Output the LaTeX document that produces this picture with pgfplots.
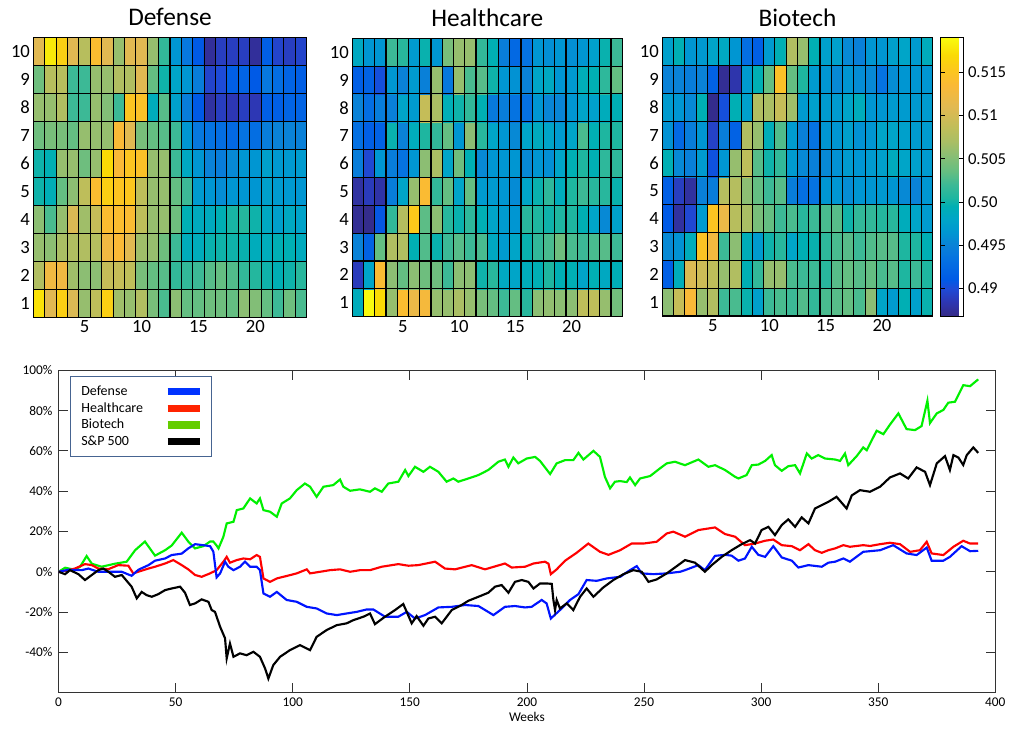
\documentclass[border=0pt]{standalone}
\usepackage{fontspec}
\setmainfont{Carlito}
\usepackage{pgfplots}
\pgfplotsset{compat=1.18}
\definecolor{legborder}{RGB}{70,100,145}
\definecolor{cdef}{RGB}{0,20,255}
\definecolor{chc}{RGB}{255,0,0}
\definecolor{cbio}{RGB}{0,240,0}
\definecolor{sdef}{RGB}{0,50,255}
\definecolor{shc}{RGB}{255,35,0}
\definecolor{sbio}{RGB}{100,205,0}
\pgfplotsset{
  /pgf/number format/assume math mode=true,
  colormap={myparula}{
    rgb255(0pt)=(53,42,135)
    rgb255(17pt)=(45,55,180)
    rgb255(32pt)=(30,75,215)
    rgb255(42pt)=(0,90,230)
    rgb255(67pt)=(5,115,225)
    rgb255(82pt)=(10,130,215)
    rgb255(97pt)=(0,150,210)
    rgb255(112pt)=(0,165,200)
    rgb255(127pt)=(0,175,180)
    rgb255(137pt)=(30,182,160)
    rgb255(152pt)=(60,185,150)
    rgb255(167pt)=(100,190,130)
    rgb255(187pt)=(140,190,115)
    rgb255(202pt)=(170,190,100)
    rgb255(217pt)=(190,190,90)
    rgb255(242pt)=(225,185,82)
    rgb255(267pt)=(250,185,55)
    rgb255(284pt)=(252,198,30)
    rgb255(302pt)=(250,218,5)
    rgb255(322pt)=(249,251,14)
  },
  heat/.style={
    scale only axis, enlargelimits=false,
    anchor=north west,
    xmin=0.5, xmax=24.5, ymin=0.5, ymax=10.5,
    xtick={5,10,15,20}, ytick={1,2,...,10},
    minor xtick={0.5,1.5,...,24.5}, minor ytick={0.5,1.5,...,10.5},
    major tick length=0pt, minor tick length=0pt,
    xminorgrids, yminorgrids,
    minor grid style={black, line width=0.8pt},
    axis on top,
    axis line style={black, line width=0.9pt},
    tick label style={font=\fontsize{14}{16}\selectfont},
    yticklabel style={xshift=1pt},
    xticklabel style={yshift=1pt},
    title style={font=\fontsize{19}{22}\selectfont, yshift=-1pt},
    colormap name=myparula,
    point meta min=0.4868, point meta max=0.519,
  },
}
\begin{document}
\begin{tikzpicture}
\path[use as bounding box] (0,0) rectangle (758.25pt,-548.25pt);

% ---------------- Defense ----------------
\begin{axis}[heat, at={(25pt,-28pt)}, width=205pt, height=210pt, title={Defense}]
\addplot[matrix plot*, mesh/cols=24, mesh/rows=10, point meta=explicit] coordinates {
(1,1)[0.5175] (2,1)[0.511] (3,1)[0.516] (4,1)[0.5105] (5,1)[0.506] (6,1)[0.5085] (7,1)[0.516] (8,1)[0.5065] (9,1)[0.506] (10,1)[0.5075] (11,1)[0.5045] (12,1)[0.5025] (13,1)[0.5055] (14,1)[0.5035] (15,1)[0.5035] (16,1)[0.504] (17,1)[0.504] (18,1)[0.5035] (19,1)[0.5055] (20,1)[0.505] (21,1)[0.5035] (22,1)[0.502] (23,1)[0.504] (24,1)[0.5025]

(1,2)[0.5075] (2,2)[0.5125] (3,2)[0.5125] (4,2)[0.5065] (5,2)[0.5055] (6,2)[0.5055] (7,2)[0.509] (8,2)[0.509] (9,2)[0.5085] (10,2)[0.5045] (11,2)[0.5035] (12,2)[0.503] (13,2)[0.5015] (14,2)[0.5015] (15,2)[0.502] (16,2)[0.503] (17,2)[0.5035] (18,2)[0.5028] (19,2)[0.5015] (20,2)[0.5008] (21,2)[0.5] (22,2)[0.4995] (23,2)[0.5] (24,2)[0.501]

(1,3)[0.506] (2,3)[0.5055] (3,3)[0.507] (4,3)[0.5075] (5,3)[0.5075] (6,3)[0.5078] (7,3)[0.5125] (8,3)[0.5135] (9,3)[0.511] (10,3)[0.5065] (11,3)[0.506] (12,3)[0.504] (13,3)[0.502] (14,3)[0.499] (15,3)[0.499] (16,3)[0.4998] (17,3)[0.5] (18,3)[0.5] (19,3)[0.4998] (20,3)[0.499] (21,3)[0.499] (22,3)[0.4995] (23,3)[0.4995] (24,3)[0.4988]

(1,4)[0.5055] (2,4)[0.5025] (3,4)[0.506] (4,4)[0.5105] (5,4)[0.5065] (6,4)[0.509] (7,4)[0.514] (8,4)[0.514] (9,4)[0.5138] (10,4)[0.5085] (11,4)[0.506] (12,4)[0.506] (13,4)[0.504] (14,4)[0.4995] (15,4)[0.4988] (16,4)[0.4988] (17,4)[0.4995] (18,4)[0.5003] (19,4)[0.5008] (20,4)[0.5] (21,4)[0.4985] (22,4)[0.4975] (23,4)[0.4985] (24,4)[0.4978]

(1,5)[0.5] (2,5)[0.4993] (3,5)[0.5035] (4,5)[0.5055] (5,5)[0.5085] (6,5)[0.514] (7,5)[0.516] (8,5)[0.515] (9,5)[0.5152] (10,5)[0.5085] (11,5)[0.506] (12,5)[0.506] (13,5)[0.5035] (14,5)[0.502] (15,5)[0.497] (16,5)[0.4965] (17,5)[0.4958] (18,5)[0.4965] (19,5)[0.4965] (20,5)[0.4965] (21,5)[0.4975] (22,5)[0.497] (23,5)[0.4968] (24,5)[0.4965]

(1,6)[0.5] (2,6)[0.4995] (3,6)[0.506] (4,6)[0.506] (5,6)[0.504] (6,6)[0.506] (7,6)[0.517] (8,6)[0.5135] (9,6)[0.515] (10,6)[0.5145] (11,6)[0.506] (12,6)[0.506] (13,6)[0.502] (14,6)[0.4985] (15,6)[0.4965] (16,6)[0.495] (17,6)[0.4945] (18,6)[0.4955] (19,6)[0.4965] (20,6)[0.4965] (21,6)[0.4975] (22,6)[0.4968] (23,6)[0.4968] (24,6)[0.497]

(1,7)[0.504] (2,7)[0.5045] (3,7)[0.5045] (4,7)[0.5035] (5,7)[0.506] (6,7)[0.506] (7,7)[0.506] (8,7)[0.5135] (9,7)[0.511] (10,7)[0.5045] (11,7)[0.5035] (12,7)[0.503] (13,7)[0.502] (14,7)[0.4965] (15,7)[0.494] (16,7)[0.4935] (17,7)[0.493] (18,7)[0.4925] (19,7)[0.4935] (20,7)[0.493] (21,7)[0.4945] (22,7)[0.495] (23,7)[0.495] (24,7)[0.4948]

(1,8)[0.506] (2,8)[0.506] (3,8)[0.5075] (4,8)[0.502] (5,8)[0.502] (6,8)[0.506] (7,8)[0.505] (8,8)[0.502] (9,8)[0.515] (10,8)[0.5145] (11,8)[0.499] (12,8)[0.503] (13,8)[0.4975] (14,8)[0.4945] (15,8)[0.491] (16,8)[0.4878] (17,8)[0.489] (18,8)[0.4885] (19,8)[0.489] (20,8)[0.4885] (21,8)[0.4915] (22,8)[0.4915] (23,8)[0.492] (24,8)[0.492]

(1,9)[0.504] (2,9)[0.508] (3,9)[0.508] (4,9)[0.502] (5,9)[0.502] (6,9)[0.506] (7,9)[0.506] (8,9)[0.5075] (9,9)[0.5075] (10,9)[0.511] (11,9)[0.5035] (12,9)[0.5] (13,9)[0.498] (14,9)[0.4965] (15,9)[0.4945] (16,9)[0.4895] (17,9)[0.49] (18,9)[0.4915] (19,9)[0.492] (20,9)[0.491] (21,9)[0.494] (22,9)[0.493] (23,9)[0.492] (24,9)[0.4915]

(1,10)[0.511] (2,10)[0.518] (3,10)[0.516] (4,10)[0.511] (5,10)[0.508] (6,10)[0.514] (7,10)[0.511] (8,10)[0.506] (9,10)[0.511] (10,10)[0.511] (11,10)[0.506] (12,10)[0.5015] (13,10)[0.4965] (14,10)[0.494] (15,10)[0.491] (16,10)[0.4875] (17,10)[0.489] (18,10)[0.489] (19,10)[0.489] (20,10)[0.4875] (21,10)[0.4915] (22,10)[0.4895] (23,10)[0.489] (24,10)[0.4895]
};
\end{axis}

% ---------------- Healthcare ----------------
\begin{axis}[heat, at={(264.2pt,-28.7pt)}, width=202.5pt, height=208.8pt, title={Healthcare}]
\addplot[matrix plot*, mesh/cols=24, mesh/rows=10, point meta=explicit] coordinates {
(1,1)[0.499] (2,1)[0.519] (3,1)[0.517] (4,1)[0.506] (5,1)[0.514] (6,1)[0.512] (7,1)[0.513] (8,1)[0.506] (9,1)[0.506] (10,1)[0.507] (11,1)[0.506] (12,1)[0.5045] (13,1)[0.5035] (14,1)[0.502] (15,1)[0.5035] (16,1)[0.501] (17,1)[0.5055] (18,1)[0.5058] (19,1)[0.5055] (20,1)[0.5055] (21,1)[0.5085] (22,1)[0.5085] (23,1)[0.506] (24,1)[0.5042]

(1,2)[0.4888] (2,2)[0.498] (3,2)[0.5138] (4,2)[0.5055] (5,2)[0.5035] (6,2)[0.5055] (7,2)[0.504] (8,2)[0.504] (9,2)[0.502] (10,2)[0.5055] (11,2)[0.5055] (12,2)[0.5] (13,2)[0.501] (14,2)[0.4985] (15,2)[0.498] (16,2)[0.499] (17,2)[0.4995] (18,2)[0.5005] (19,2)[0.4995] (20,2)[0.4995] (21,2)[0.498] (22,2)[0.4995] (23,2)[0.4985] (24,2)[0.4993]

(1,3)[0.495] (2,3)[0.4918] (3,3)[0.5035] (4,3)[0.5075] (5,3)[0.5075] (6,3)[0.4995] (7,3)[0.5028] (8,3)[0.4998] (9,3)[0.502] (10,3)[0.503] (11,3)[0.502] (12,3)[0.5025] (13,3)[0.4985] (14,3)[0.497] (15,3)[0.498] (16,3)[0.4998] (17,3)[0.5015] (18,3)[0.5025] (19,3)[0.504] (20,3)[0.5025] (21,3)[0.502] (22,3)[0.5025] (23,3)[0.503] (24,3)[0.502]

(1,4)[0.4873] (2,4)[0.487] (3,4)[0.4908] (4,4)[0.5015] (5,4)[0.5078] (6,4)[0.5155] (7,4)[0.5032] (8,4)[0.5055] (9,4)[0.501] (10,4)[0.4998] (11,4)[0.5013] (12,4)[0.4995] (13,4)[0.498] (14,4)[0.497] (15,4)[0.4965] (16,4)[0.501] (17,4)[0.5005] (18,4)[0.5] (19,4)[0.5005] (20,4)[0.5005] (21,4)[0.4995] (22,4)[0.498] (23,4)[0.4955] (24,4)[0.4975]

(1,5)[0.4878] (2,5)[0.4888] (3,5)[0.488] (4,5)[0.4945] (5,5)[0.498] (6,5)[0.506] (7,5)[0.5138] (8,5)[0.5015] (9,5)[0.5035] (10,5)[0.498] (11,5)[0.5035] (12,5)[0.497] (13,5)[0.497] (14,5)[0.4965] (15,5)[0.4957] (16,5)[0.498] (17,5)[0.4998] (18,5)[0.5013] (19,5)[0.499] (20,5)[0.5005] (21,5)[0.502] (22,5)[0.501] (23,5)[0.501] (24,5)[0.4998]

(1,6)[0.4945] (2,6)[0.4898] (3,6)[0.4965] (4,6)[0.4945] (5,6)[0.4935] (6,6)[0.4965] (7,6)[0.5055] (8,6)[0.507] (9,6)[0.498] (10,6)[0.504] (11,6)[0.4995] (12,6)[0.4955] (13,6)[0.4965] (14,6)[0.4965] (15,6)[0.4965] (16,6)[0.4955] (17,6)[0.4965] (18,6)[0.496] (19,6)[0.498] (20,6)[0.4995] (21,6)[0.5005] (22,6)[0.4995] (23,6)[0.5013] (24,6)[0.5013]

(1,7)[0.4932] (2,7)[0.4915] (3,7)[0.4918] (4,7)[0.4998] (5,7)[0.495] (6,7)[0.499] (7,7)[0.5005] (8,7)[0.5015] (9,7)[0.5035] (10,7)[0.4965] (11,7)[0.5055] (12,7)[0.501] (13,7)[0.498] (14,7)[0.4965] (15,7)[0.4955] (16,7)[0.498] (17,7)[0.4988] (18,7)[0.498] (19,7)[0.497] (20,7)[0.498] (21,7)[0.5025] (22,7)[0.4995] (23,7)[0.5005] (24,7)[0.5005]

(1,8)[0.495] (2,8)[0.493] (3,8)[0.4945] (4,8)[0.4948] (5,8)[0.498] (6,8)[0.497] (7,8)[0.509] (8,8)[0.507] (9,8)[0.4993] (10,8)[0.5] (11,8)[0.5015] (12,8)[0.4995] (13,8)[0.4942] (14,8)[0.4945] (15,8)[0.4935] (16,8)[0.4933] (17,8)[0.4965] (18,8)[0.4952] (19,8)[0.4952] (20,8)[0.4965] (21,8)[0.498] (22,8)[0.4975] (23,8)[0.499] (24,8)[0.4995]

(1,9)[0.4915] (2,9)[0.4918] (3,9)[0.4903] (4,9)[0.4965] (5,9)[0.495] (6,9)[0.497] (7,9)[0.4948] (8,9)[0.506] (9,9)[0.494] (10,9)[0.506] (11,9)[0.5025] (12,9)[0.503] (13,9)[0.5] (14,9)[0.4965] (15,9)[0.4962] (16,9)[0.495] (17,9)[0.498] (18,9)[0.4985] (19,9)[0.4965] (20,9)[0.4968] (21,9)[0.4992] (22,9)[0.4995] (23,9)[0.5013] (24,9)[0.5035]

(1,10)[0.4985] (2,10)[0.4965] (3,10)[0.4965] (4,10)[0.502] (5,10)[0.501] (6,10)[0.497] (7,10)[0.4998] (8,10)[0.4965] (9,10)[0.5045] (10,10)[0.506] (11,10)[0.506] (12,10)[0.5015] (13,10)[0.4995] (14,10)[0.4945] (15,10)[0.4925] (16,10)[0.4935] (17,10)[0.4965] (18,10)[0.496] (19,10)[0.4965] (20,10)[0.496] (21,10)[0.4965] (22,10)[0.4975] (23,10)[0.4998] (24,10)[0.502]
};
\end{axis}

% ---------------- Biotech ----------------
\begin{axis}[heat, at={(496.7pt,-28.3pt)}, width=202.8pt, height=208.7pt, title={Biotech},
  colorbar,
  colorbar shift/.style={xshift=5.5pt},
  colorbar style={
    at={(parent axis.north east)}, anchor=north west,
    width=17.5pt,
    ytick={0.49,0.495,0.5,0.505,0.51,0.515},
    yticklabel={\pgfmathparse{int(round(\tick*1000))}\ifnum\pgfmathresult=500 0.50\else\pgfmathprintnumber[fixed,precision=3]{\tick}\fi},
    yticklabel style={/pgf/number format/.cd, fixed, precision=3},
    minor ytick={}, minor xtick={}, xminorgrids=false, yminorgrids=false,
    yticklabel pos=right,
    tick align=inside, major tick length=3.5pt,
    tick style={black, line width=0.5pt},
    axis line style={black, line width=0.7pt},
    tick label style={font=\fontsize{12.5}{14}\selectfont},
  }]
\addplot[matrix plot*, mesh/cols=24, mesh/rows=10, point meta=explicit] coordinates {
(1,1)[0.5055] (2,1)[0.509] (3,1)[0.5135] (4,1)[0.506] (5,1)[0.5075] (6,1)[0.502] (7,1)[0.5025] (8,1)[0.4998] (9,1)[0.4975] (10,1)[0.502] (11,1)[0.5025] (12,1)[0.502] (13,1)[0.5028] (14,1)[0.5015] (15,1)[0.5025] (16,1)[0.503] (17,1)[0.5035] (18,1)[0.5025] (19,1)[0.5055] (20,1)[0.498] (21,1)[0.497] (22,1)[0.4995] (23,1)[0.4975] (24,1)[0.4998]

(1,2)[0.4915] (2,2)[0.499] (3,2)[0.5105] (4,2)[0.5095] (5,2)[0.5085] (6,2)[0.506] (7,2)[0.5075] (8,2)[0.4995] (9,2)[0.5015] (10,2)[0.506] (11,2)[0.506] (12,2)[0.5025] (13,2)[0.502] (14,2)[0.502] (15,2)[0.501] (16,2)[0.503] (17,2)[0.5035] (18,2)[0.503] (19,2)[0.5035] (20,2)[0.5025] (21,2)[0.503] (22,2)[0.5005] (23,2)[0.502] (24,2)[0.5005]

(1,3)[0.4955] (2,3)[0.4962] (3,3)[0.499] (4,3)[0.5148] (5,3)[0.5128] (6,3)[0.502] (7,3)[0.5055] (8,3)[0.4992] (9,3)[0.497] (10,3)[0.5] (11,3)[0.501] (12,3)[0.498] (13,3)[0.4995] (14,3)[0.4998] (15,3)[0.5013] (16,3)[0.5025] (17,3)[0.503] (18,3)[0.502] (19,3)[0.5028] (20,3)[0.503] (21,3)[0.503] (22,3)[0.5005] (23,3)[0.5005] (24,3)[0.4995]

(1,4)[0.491] (2,4)[0.4877] (3,4)[0.4898] (4,4)[0.497] (5,4)[0.515] (6,4)[0.512] (7,4)[0.508] (8,4)[0.507] (9,4)[0.5045] (10,4)[0.5035] (11,4)[0.502] (12,4)[0.5025] (13,4)[0.501] (14,4)[0.502] (15,4)[0.5025] (16,4)[0.503] (17,4)[0.5] (18,4)[0.5015] (19,4)[0.5015] (20,4)[0.5008] (21,4)[0.501] (22,4)[0.499] (23,4)[0.498] (24,4)[0.497]

(1,5)[0.4915] (2,5)[0.489] (3,5)[0.4877] (4,5)[0.4948] (5,5)[0.4945] (6,5)[0.5078] (7,5)[0.5078] (8,5)[0.5055] (9,5)[0.5035] (10,5)[0.502] (11,5)[0.503] (12,5)[0.4945] (13,5)[0.4932] (14,5)[0.4935] (15,5)[0.4965] (16,5)[0.4965] (17,5)[0.4958] (18,5)[0.4965] (19,5)[0.4965] (20,5)[0.4968] (21,5)[0.4965] (22,5)[0.4955] (23,5)[0.495] (24,5)[0.4965]

(1,6)[0.4995] (2,6)[0.4955] (3,6)[0.4948] (4,6)[0.497] (5,6)[0.4905] (6,6)[0.4965] (7,6)[0.506] (8,6)[0.5085] (9,6)[0.503] (10,6)[0.5] (11,6)[0.5015] (12,6)[0.497] (13,6)[0.4955] (14,6)[0.4948] (15,6)[0.4955] (16,6)[0.4962] (17,6)[0.497] (18,6)[0.4965] (19,6)[0.497] (20,6)[0.4975] (21,6)[0.4988] (22,6)[0.498] (23,6)[0.4975] (24,6)[0.497]

(1,7)[0.4962] (2,7)[0.4925] (3,7)[0.4945] (4,7)[0.4965] (5,7)[0.4893] (6,7)[0.4945] (7,7)[0.4918] (8,7)[0.5075] (9,7)[0.506] (10,7)[0.4992] (11,7)[0.5028] (12,7)[0.497] (13,7)[0.4948] (14,7)[0.4935] (15,7)[0.4965] (16,7)[0.4965] (17,7)[0.4975] (18,7)[0.4962] (19,7)[0.4965] (20,7)[0.498] (21,7)[0.498] (22,7)[0.4975] (23,7)[0.497] (24,7)[0.497]

(1,8)[0.497] (2,8)[0.4965] (3,8)[0.4955] (4,8)[0.4995] (5,8)[0.487] (6,8)[0.4903] (7,8)[0.4995] (8,8)[0.4975] (9,8)[0.5075] (10,8)[0.507] (11,8)[0.509] (12,8)[0.5065] (13,8)[0.497] (14,8)[0.4975] (15,8)[0.497] (16,8)[0.497] (17,8)[0.498] (18,8)[0.499] (19,8)[0.4965] (20,8)[0.4965] (21,8)[0.497] (22,8)[0.497] (23,8)[0.4968] (24,8)[0.497]

(1,9)[0.495] (2,9)[0.495] (3,9)[0.4945] (4,9)[0.495] (5,9)[0.4918] (6,9)[0.4873] (7,9)[0.4882] (8,9)[0.497] (9,9)[0.4995] (10,9)[0.5035] (11,9)[0.5145] (12,9)[0.5035] (13,9)[0.5005] (14,9)[0.497] (15,9)[0.4965] (16,9)[0.4955] (17,9)[0.4965] (18,9)[0.4958] (19,9)[0.4955] (20,9)[0.4935] (21,9)[0.4958] (22,9)[0.4965] (23,9)[0.4965] (24,9)[0.4965]

(1,10)[0.4975] (2,10)[0.4995] (3,10)[0.4965] (4,10)[0.4968] (5,10)[0.498] (6,10)[0.4985] (7,10)[0.4965] (8,10)[0.493] (9,10)[0.4915] (10,10)[0.497] (11,10)[0.4995] (12,10)[0.5075] (13,10)[0.506] (14,10)[0.4995] (15,10)[0.4975] (16,10)[0.4975] (17,10)[0.4955] (18,10)[0.4948] (19,10)[0.4965] (20,10)[0.4965] (21,10)[0.4975] (22,10)[0.498] (23,10)[0.497] (24,10)[0.499]
};
\end{axis}

% ---------------- Line chart ----------------
\begin{axis}[
  at={(43.9pt,-277.7pt)}, anchor=north west, scale only axis,
  width=702.6pt, height=241.8pt,
  xmin=0, xmax=400, ymin=-60, ymax=100,
  xtick={0,50,...,400},
  ytick={-40,-20,0,20,40,60,80,100},
  yticklabels={-40\%,-20\%,0\%,20\%,40\%,60\%,80\%,100\%},
  tick align=inside, major tick length=7pt,
  axis line style={black!80, line width=0.8pt},
  tick style={black!80, line width=0.6pt},
  tick label style={font=\fontsize{10}{12}\selectfont},
  yticklabel style={xshift=-1pt},
  xlabel={Weeks}, xlabel style={font=\fontsize{10}{12}\selectfont, yshift=2pt},
  legend style={at={(axis description cs:0.0123,0.982)}, anchor=north west,
    draw=legborder, line width=0.9pt, fill=white,
    font=\fontsize{10.5}{12}\selectfont,
    inner xsep=6pt, inner ysep=4.8pt, row sep=-0.2pt,
    cells={anchor=west}},
  legend cell align=left, legend plot pos=right,
  legend image code/.code={\path (0pt,0pt); \draw[line width=5.5pt,#1] (16pt,0pt) -- (40pt,0pt);},
]
\addlegendimage{sdef}\addlegendentry{Defense}
\addlegendimage{shc}\addlegendentry{Healthcare}
\addlegendimage{sbio}\addlegendentry{Biotech}
\addlegendimage{black}\addlegendentry{S\&P 500}

% Biotech
\addplot[forget plot, color=cbio, line width=1.6pt] coordinates {
(0,0) (2.8,2) (7,1) (9.2,2.5) (12,7.8) (14.2,4) (18.4,2.5) (24.1,4) (29.1,5) (32.7,10.7)
(36.9,15) (41.2,8) (45.5,10.7) (48.3,13) (52.6,19.4) (55.4,15) (58.3,11.6) (61.8,12.7) (64.7,15) (66.1,15)
(67.5,13) (68.3,11.6) (70.4,17.4) (71.8,24) (74.7,24.8) (76.1,30.6) (78.9,31.4) (81.8,36.4) (84.6,33.9) (86,36.4)
(87.5,30.6) (90.3,29.8) (93.2,27.3) (95.3,33.9) (98.8,36.4) (101.7,40.5) (105.2,43.8) (107.4,42.2) (110.2,37.2) (113.1,42.2)
(117.3,43) (120.2,45.8) (121.6,42.2) (124.5,40.2) (128.7,40.9) (133,39.7) (135.1,41.4) (138,39.7) (140.8,43.8) (145.1,44.7)
(148,50.5) (149.4,47.5) (152.2,52.1) (155.8,49.6) (158.6,52.1) (162.2,49.6) (165.7,44.7) (168.6,46.3) (170.7,44.7) (175,46.3)
(179.3,48) (183.5,50.5) (187.8,54.6) (190.6,55.7) (192.1,52.1) (194.2,56.7) (196.3,53.8) (199.9,56.2) (203.5,57) (205.6,55)
(209.9,48.5) (212.7,53.8) (216.3,55.4) (219.8,55.4) (222,59) (224.1,55.7) (228.4,60) (231.2,57) (233.3,47.1) (235.5,41.4)
(237.6,44.7) (239.8,45) (242.6,44.5) (244,46.8) (246.2,43) (248.3,46.3) (252.6,47.5) (256.8,51.3) (259.7,53.8) (263.2,54.6)
(267.5,52.9) (273.2,55.7) (277.5,52.1) (280.3,52.9) (284.6,50.5) (288.9,47.1) (290.3,46.3) (293.8,48) (296,52.9) (298.8,53.2)
(301.7,55) (304.5,57.9) (305.9,52.9) (308.8,50.1) (311.6,52.4) (314.5,52.9) (316.6,48.8) (319.5,58.7) (321.6,56.2) (324.4,57.9)
(327.3,56.2) (331.6,55.7) (333.7,55) (335.8,58.7) (337.2,52.9) (340.8,57.4) (343.6,61.7) (345.1,60.3) (349.3,70) (352.2,68.3)
(355,73) (358.6,78.6) (362.1,70.8) (365.7,70.3) (368.5,72.3) (371,84.9) (372.1,73.8) (375,78.6) (377.8,80.3) (379.9,83.9)
(382.8,84.4) (386.3,92.6) (389.2,92.1) (392.7,95.5)
};

% Healthcare
\addplot[forget plot, color=chc, line width=1.6pt] coordinates {
(0,0) (4.2,0.8) (7,1.6) (11.3,3.8) (14.2,3.3) (17,1.6) (21.3,1.3) (25.5,3.3) (29.8,3) (31.9,-0.8)
(34,0) (38.4,1.6) (41.2,2.5) (45.5,4.1) (49,5.8) (52.6,3.3) (55.4,1.2) (58.3,-1.6) (61.1,-2.5) (64.7,-0.8)
(67.5,0.8) (70.4,5) (71.8,7.4) (73.2,4.5) (76.1,5.8) (78.9,6.6) (81.8,6.2) (84.6,8.3) (86,7.4) (87.5,-3.3)
(90.3,-5) (93.2,-3.3) (97.4,-2.1) (101.7,-0.8) (106,1.2) (107.4,-0.8) (111.7,0) (115.9,0.8) (120.2,1.2) (124.5,0)
(128.7,0.8) (133,0.8) (138,2.5) (145.1,3.8) (149.4,3) (153.6,3.3) (160.8,5) (165,1.6) (169.3,1.2) (176.4,3.3)
(182.1,1.2) (190.6,4.1) (193.5,2.1) (199.2,2.5) (202.8,4.1) (207.7,5) (209.2,4) (210.2,-1.2) (212.7,1.2) (216.3,5.5)
(221.2,9.4) (226.2,14) (231.2,9.9) (234.8,8.4) (239.8,10.7) (244.7,14) (249.7,14) (255.4,14.9) (259.7,19) (262.5,19.9)
(267.5,17.4) (273.2,20.7) (280.3,22) (284.6,18.7) (288.9,17.4) (293.1,13.2) (297.4,14) (301.7,15.4) (305.2,16) (308.8,13.2)
(313.1,12.7) (316.6,10.7) (320.2,13.7) (323,10.7) (325.9,9.4) (328.7,10.7) (331.6,11.6) (335.1,13.2) (337.9,12.4) (343.6,13.2)
(346.5,12.8) (350.8,13.7) (355,14.4) (359.3,13.7) (363.6,9.9) (367.8,10.7) (370.7,14.9) (372.8,9.1) (377.8,8.3) (382.1,12.4)
(386.3,15.4) (389.2,14) (392.7,14)
};

% Defense
\addplot[forget plot, color=cdef, line width=1.6pt] coordinates {
(0,0) (4.2,1) (9.9,0.8) (12.7,1.6) (17,0) (21.3,0) (27,0) (31.2,-2) (34.1,1) (38.4,3.3)
(41.2,5.5) (45.5,6.6) (48.3,8.3) (52.6,9) (55.4,11.6) (58.3,13.7) (61.8,13.2) (64.7,12.7) (66.1,10) (67.5,-2.8)
(69,-0.8) (71.1,5) (72.5,2.5) (74.7,0.8) (77.5,2.5) (79.6,5) (81.8,2.5) (84.6,2.5) (86,0.8) (87.5,-10.8)
(90.3,-12.4) (93.2,-10) (97.4,-14) (101.7,-14.9) (106,-17.4) (110.2,-18.2) (114.5,-20.7) (118.8,-21.5) (123,-20.7) (127.3,-19.9)
(131.6,-18.7) (134.4,-18.7) (139.4,-22.3) (145.1,-22.3) (148.7,-19.9) (152.2,-23.2) (156.5,-21.5) (162.2,-17.7) (167.9,-17.4) (173.6,-16.5)
(179.3,-17) (185.7,-21.5) (190.6,-17.4) (194.9,-17) (199.2,-17.7) (202,-17.4) (206.3,-14) (208.4,-15.7) (210.2,-23.2) (214.1,-19)
(218.4,-14) (222,-11.1) (225.5,-4.1) (229.8,-4.5) (234.1,-3.3) (239.8,-2.5) (244,0.8) (246.9,2.8) (249,-0.8) (254,-1.2)
(259.7,-0.8) (265.4,0) (267.5,0.8) (273.2,3.3) (276,0.8) (280.3,7.9) (284.6,8.4) (287.4,8) (290.3,5.5) (293.1,6.6)
(296,12.4) (298.8,8.4) (301.7,7.4) (305.2,12.7) (308.8,7.1) (313.1,5.5) (315.9,2.1) (320.2,3.3) (325.9,2.5) (328.7,4.5)
(331.6,5) (335.1,6.6) (337.9,5) (343.6,9.9) (350.8,10.7) (356.4,13.2) (362.1,9.1) (366.4,8.3) (370.7,12) (372.8,5.5)
(377.8,5.5) (380.6,7.4) (385.6,12.7) (389.2,10.2) (392.7,10.4)
};

% S&P 500
\addplot[forget plot, color=black, line width=1.6pt] coordinates {
(0,0) (2.8,-1.2) (4.9,0.8) (8.5,-1.2) (11.3,-4.1) (14.2,-1.6) (17,0.8) (19.1,1.6) (21.3,0) (24.1,-2.5)
(27,-1.6) (31.2,-7.4) (33.4,-13.2) (35.5,-10) (37.6,-11.6) (39.8,-12.4) (42.6,-11.1) (45.5,-9.1) (48.3,-8.3) (51.9,-7.4)
(54,-10.4) (56.1,-16.5) (58.3,-15.7) (61.1,-13.7) (64,-14.9) (65.4,-19) (66.8,-19.9) (69,-27.3) (71.1,-33) (71.8,-43)
(73.2,-35.6) (74.7,-42.2) (77.5,-40.5) (80.3,-41.4) (83.2,-39.7) (86,-42.2) (88.2,-48) (89.6,-53) (91.7,-46.3) (94.6,-42.2)
(98.8,-38.9) (103.1,-36.4) (107.4,-38.9) (110.2,-32.3) (114.5,-28.9) (118.8,-26.5) (123,-25.6) (125.9,-24) (130.2,-22.3) (133,-20.7)
(135.1,-26) (139.4,-22.3) (143.7,-19) (147.2,-16) (150.8,-25.6) (152.9,-22) (155.8,-26.8) (157.9,-23.2) (160.8,-22.3) (163.6,-25.6)
(167.9,-19) (172.1,-16.5) (175,-14.4) (179.3,-12.4) (183.5,-10.4) (186.4,-7.4) (189.2,-6.6) (192.1,-10.4) (194.9,-5) (197.8,-4.1)
(200.6,-5) (202.8,-8.3) (205.6,-5.8) (208.4,-5.8) (210.6,-6) (211.3,-14) (212,-19) (212.7,-14) (214.1,-18.2) (217,-15.7)
(219.8,-19) (222.7,-12.4) (225.5,-8.3) (228.4,-12.4) (232.6,-7.8) (236.9,-4.1) (241.2,-1.2) (245.4,0.8) (249,0) (251.9,-5)
(255.4,-3.8) (259.7,-0.8) (264,2.8) (267.5,5.8) (271.8,4.5) (276,0) (278.9,3.3) (283.2,7.4) (287.4,10.7) (291.7,13.7)
(295.3,15.7) (297.4,14) (300.2,20.7) (303.1,22.3) (305.9,18.2) (308.8,23.2) (311.6,26) (314.5,22.3) (317.3,27) (320.2,24)
(323,31.4) (325.9,33.1) (328.7,34.7) (332.2,37.2) (336.5,31.4) (338.7,37.9) (342.2,40.5) (346.5,39.7) (350.8,42.2) (355,46.8)
(359.3,48.8) (362.8,46.3) (366.4,51.8) (370,49.6) (372.1,43) (375,53.8) (378.5,57.4) (380.6,50.5) (382.1,57.9) (384.2,56.7)
(386.3,53) (387.8,57.9) (390.6,61.7) (392.7,59)
};
\end{axis}
\end{tikzpicture}
\end{document}
